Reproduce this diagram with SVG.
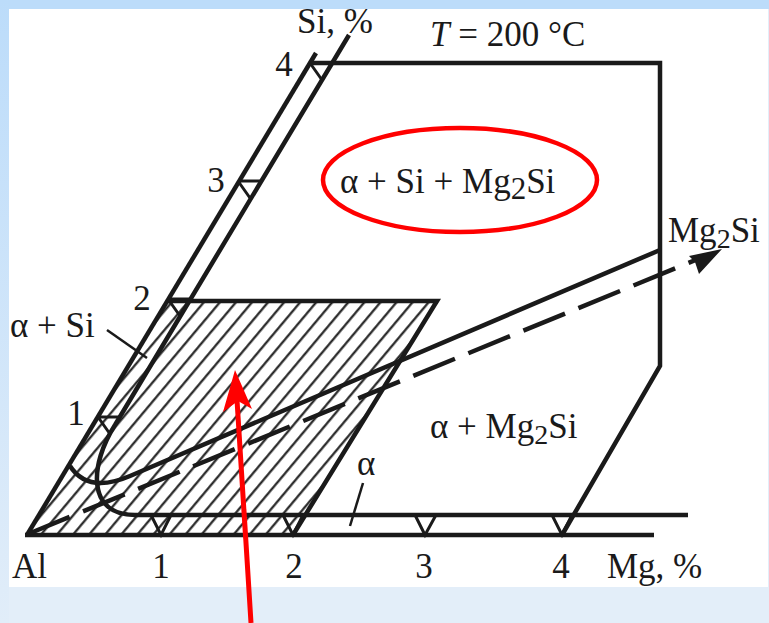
<svg xmlns="http://www.w3.org/2000/svg" width="769" height="623" viewBox="0 0 769 623">
<defs>
  <linearGradient id="leftg" x1="0" y1="0" x2="0" y2="1">
    <stop offset="0" stop-color="#bcdcfa"/>
    <stop offset="1" stop-color="#e1edf9"/>
  </linearGradient>
  <pattern id="hatch" width="40" height="12.3" patternUnits="userSpaceOnUse" patternTransform="rotate(-50)">
    <line x1="0" y1="6" x2="40" y2="6" stroke="#1a1a1a" stroke-width="2"/>
  </pattern>
  <clipPath id="hclip">
    <polygon points="27,535 168,301 437,301 293,535"/>
  </clipPath>
</defs>
<style>
  .ln{fill:none;stroke:#1a1a1a;stroke-width:4.5;stroke-linecap:butt;stroke-linejoin:miter}
  .tk{fill:none;stroke:#1a1a1a;stroke-width:3}
  .ld{fill:none;stroke:#1a1a1a;stroke-width:2.5}
  .t{font-family:"Liberation Serif","Times New Roman",serif;font-size:35px;fill:#1a1a1a}
  .sub{font-size:28px}
</style>
<!-- background -->
<rect x="0" y="0" width="769" height="623" fill="#e3eef9"/>
<rect x="0" y="0" width="769" height="9" fill="#bcdcfa"/>
<rect x="0" y="0" width="9" height="623" fill="url(#leftg)"/>
<rect x="9" y="9" width="759" height="578" fill="#ffffff"/>

<g id="hatched-region">
  <rect x="0" y="280" width="460" height="270" fill="url(#hatch)" clip-path="url(#hclip)"/>
  <polyline class="ln" points="168,301 437,301 293,535"/>
</g>

<g id="axes">
  <line class="ln" x1="27" y1="535" x2="316" y2="53"/>
  <path class="ln" d="M349,35 L115,425 C90,464 86,515 135,515 L688,515"/>
  <line class="ln" x1="25" y1="535" x2="654" y2="535"/>
  <!-- Si ticks -->
  <path class="tk" d="M98,417 L120,417 M98,417 L110,434"/>
  <path class="tk" d="M168,299 L190,299 M168,299 L180,316"/>
  <path class="tk" d="M238,181 L260,181 M238,181 L250,198"/>
  <path class="tk" d="M310,63 L332,63 M310,63 L322,80"/>
  <!-- Mg ticks -->
  <path class="tk" d="M151,515 L161,535 L171,515"/>
  <path class="tk" d="M283,515 L293,535 L303,515"/>
  <path class="tk" d="M415,515 L425,535 L436,515"/>
  <path class="tk" d="M552,515 L562,535 L572,515"/>
</g>

<g id="phase-boundary">
  <polyline class="ln" points="310,63 660,63 660,366 562,535"/>
</g>

<g id="connectors">
  <path class="ln" d="M70,466 Q88,494 130,476 L660,250"/>
  <line class="ln" x1="28" y1="534" x2="698" y2="259" stroke-dasharray="45 14.5"/>
  <polygon points="722,249 689,256 695,262 699,274" fill="#1a1a1a"/>
  <line class="ld" x1="107" y1="330" x2="147" y2="358"/>
  <line class="ld" x1="363" y1="483" x2="350" y2="526"/>
</g>

<g id="labels">
  <text class="t" x="297" y="33" font-size="32">Si, %</text>
  <text class="t" x="430" y="46" font-size="36"><tspan font-style="italic">T</tspan> = 200 °C</text>
  <text class="t" x="284" y="76" text-anchor="middle">4</text>
  <text class="t" x="216" y="192" text-anchor="middle">3</text>
  <text class="t" x="142" y="310" text-anchor="middle">2</text>
  <text class="t" x="76" y="425" text-anchor="middle">1</text>
  <text class="t" x="10" y="337">α + Si</text>
  <text class="t" x="668" y="242">Mg<tspan class="sub" dy="6">2</tspan><tspan dy="-6">Si</tspan></text>
  <text class="t" x="430" y="438">α + Mg<tspan class="sub" dy="6">2</tspan><tspan dy="-6">Si</tspan></text>
  <text class="t" x="357" y="475">α</text>
  <text class="t" x="12" y="578">Al</text>
  <text class="t" x="161" y="578" text-anchor="middle">1</text>
  <text class="t" x="294" y="578" text-anchor="middle">2</text>
  <text class="t" x="424" y="578" text-anchor="middle">3</text>
  <text class="t" x="561" y="578" text-anchor="middle">4</text>
  <text class="t" x="607" y="578" font-size="36">Mg, %</text>
</g>

<g id="highlight">
  <ellipse cx="460" cy="180" rx="137" ry="52" fill="none" stroke="#ff0000" stroke-width="4.5"/>
  <text class="t" x="340" y="193" font-size="39">α + Si + Mg<tspan font-size="31" dy="6">2</tspan><tspan dy="-6">Si</tspan></text>
</g>

<g id="red-arrow">
  <line x1="251" y1="623" x2="237" y2="400" stroke="#ff0000" stroke-width="5"/>
  <polygon points="235,370 252,409 238,401 223,412" fill="#ff0000"/>
</g>
</svg>
